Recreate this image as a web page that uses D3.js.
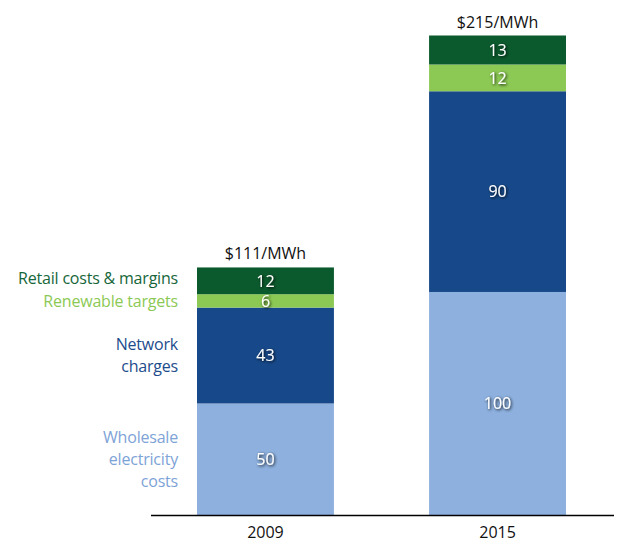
<!DOCTYPE html>
<html>
<head>
<meta charset="utf-8">
<script src="https://cdn.jsdelivr.net/npm/d3@7"></script>
<style>
  body { margin: 0; background: #fff; }
  svg { display: block; font-family: "Open Sans", "Noto Sans", sans-serif; }
</style>
</head>
<body>
<svg id="chart"></svg>
<script>
// Data
const years = ["2009", "2015"];
const categories = ["Wholesale electricity costs", "Network charges", "Renewable targets", "Retail costs & margins"];
const wholesale = [50, 100];
const network = [43, 90];
const renewable = [6, 12];
const retail = [12, 13];
const totals = ["$111/MWh", "$215/MWh"];
const legendLines = [["Wholesale", "electricity", "costs"], ["Network", "charges"], ["Renewable targets"], ["Retail costs & margins"]];

const colors = ["#8db0de", "#17498a", "#8cc954", "#0b5a2d"];
const textColors = ["#7ea3d7", "#1d4c8c", "#8cc954", "#16663a"];

const width = 617;
const height = 543;
const baseline = 515;

const svg = d3.select("#chart").attr("width", width).attr("height", height);

// Text shadow for values inside bars
const defs = svg.append("defs");
defs.append("filter")
  .attr("id", "shadow")
  .attr("x", "-30%").attr("y", "-30%").attr("width", "160%").attr("height", "160%")
  .append("feDropShadow")
  .attr("dx", 1).attr("dy", 1)
  .attr("stdDeviation", 1.4)
  .attr("flood-color", "#000")
  .attr("flood-opacity", 0.95);

// Scales
const x = d3.scaleBand()
  .domain(years)
  .range([197, 566])
  .paddingInner(0.41)
  .paddingOuter(0);

const y = d3.scaleLinear()
  .domain([0, 215])
  .range([baseline, 35.5]);

// Stack
const table = years.map((yr, i) => ({
  year: yr,
  [categories[0]]: wholesale[i],
  [categories[1]]: network[i],
  [categories[2]]: renewable[i],
  [categories[3]]: retail[i]
}));
const series = d3.stack().keys(categories)(table);

const layers = svg.append("g")
  .selectAll("g")
  .data(series)
  .join("g")
  .attr("fill", (d, i) => colors[i]);

layers.selectAll("rect")
  .data(d => d)
  .join("rect")
  .attr("x", d => x(d.data.year))
  .attr("y", d => y(d[1]))
  .attr("width", x.bandwidth())
  .attr("height", d => y(d[0]) - y(d[1]));

// Values inside segments
layers.selectAll("text")
  .data(d => d)
  .join("text")
  .attr("x", d => x(d.data.year) + x.bandwidth() / 2)
  .attr("y", d => (y(d[0]) + y(d[1])) / 2)
  .attr("dy", "0.36em")
  .attr("text-anchor", "middle")
  .attr("fill", "#fff")
  .attr("font-size", 16)
  .attr("filter", "url(#shadow)")
  .text(d => d[1] - d[0]);

// Totals above bars
svg.append("g")
  .selectAll("text")
  .data(years)
  .join("text")
  .attr("x", d => x(d) + x.bandwidth() / 2)
  .attr("y", (d, i) => y(series[series.length - 1][i][1]) - 8)
  .attr("text-anchor", "middle")
  .attr("fill", "#111")
  .attr("font-size", 16)
  .text((d, i) => totals[i]);

// Axis
const axis = svg.append("g")
  .attr("transform", `translate(0,${baseline})`)
  .call(d3.axisBottom(x).tickSize(0).tickPadding(12));
axis.select(".domain")
  .attr("d", "M151,0.5H614")
  .attr("stroke", "#000")
  .attr("stroke-width", 1.5);
axis.selectAll(".tick text")
  .attr("font-size", 16)
  .attr("font-family", "\"Open Sans\", sans-serif")
  .attr("fill", "#111");

// Category labels to the left of the 2009 bar
// (the two thin top segments sit close together, so nudge them apart a little)
const first = years[0];
const nudge = i => (i === 3 ? -2 : i === 2 ? 0.5 : 0);
const legend = svg.append("g")
  .selectAll("text")
  .data(series)
  .join("text")
  .attr("text-anchor", "end")
  .attr("font-size", 16)
  .attr("letter-spacing", "-0.2px")
  .attr("fill", (d, i) => textColors[i])
  .attr("transform", (d, i) => {
    const seg = d[0];
    return `translate(${x(first) - 19},${(y(seg[0]) + y(seg[1])) / 2 + nudge(i)})`;
  });

legend.each(function(d, i) {
  const lines = legendLines[i];
  const lh = 22;
  d3.select(this).selectAll("tspan")
    .data(lines)
    .join("tspan")
    .attr("x", 0)
    .attr("y", (l, j) => (j - (lines.length - 1) / 2) * lh)
    .attr("dy", "0.35em")
    .text(l => l);
});
</script>
</body>
</html>
